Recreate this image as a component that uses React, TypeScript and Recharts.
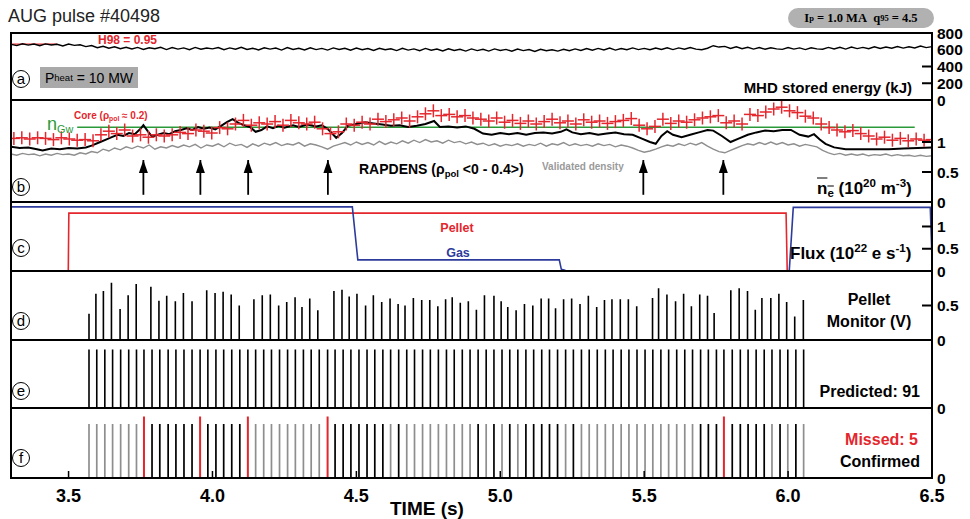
import React from 'react';
import { ComposedChart, Line, Scatter, XAxis, YAxis } from 'recharts';

// ---------------- DATA ----------------
const timeDomain = [3.3, 6.5];
const timeTicks = [3.5, 4.0, 4.5, 5.0, 5.5, 6.0, 6.5];

// (a) MHD stored energy (kJ), sampled every 0.02 s from 3.30 s
const wmhdStart = 3.3;
const wmhdStep = 0.02;
const wmhdValues = [
  664, 650, 672, 655, 668, 648, 670, 657, 666, 646, 669, 652, 660,
  638, 650, 624, 642, 618, 636, 612, 630,
  610, 628, 604, 624, 612, 630, 602, 626, 608, 622, 600, 628, 606, 620, 611,
  626, 600, 622, 606, 630, 604, 618, 598, 624, 608, 620, 596, 626, 603, 617,
  598, 624, 602, 616, 596, 622, 604, 618, 594, 620, 600, 614, 592, 618, 600,
  612, 590, 618, 596, 610, 588, 616, 594, 608, 586, 612, 592, 606, 584, 610,
  590, 606, 584, 610, 592, 604, 582, 608, 590, 602, 580, 606, 588, 600, 584,
  606, 588, 610, 592, 614, 594, 616, 598, 620, 596, 614, 600, 622, 602, 616,
  600, 620, 604, 624, 602, 622, 606, 626, 608, 600, 618, 648, 632, 640, 616,
  636, 612, 630, 608, 626, 606, 624, 610, 604, 626, 608, 622, 602, 624, 610,
  606, 628, 610, 630, 608, 632, 614, 628, 612, 636, 616, 632, 618, 638, 620,
  636, 622, 644, 626, 638,
];
const h98Times = [3.3, 3.46];
const h98Level = [668, 668];

// (b) densities (1e20 m^-3)
const rapdensTimes = [
  3.30, 3.33, 3.36, 3.39, 3.41, 3.44, 3.47, 3.50, 3.53, 3.56, 3.58, 3.61, 3.63, 3.65, 3.67, 3.69, 3.71, 3.73, 3.75, 3.76,
  3.775, 3.79, 3.81, 3.83, 3.85, 3.87, 3.89, 3.91, 3.93, 3.95, 3.97, 3.99, 4.01, 4.03, 4.05, 4.07, 4.09, 4.11, 4.13, 4.15,
  4.17, 4.19, 4.21, 4.23, 4.25, 4.28, 4.30, 4.33, 4.36, 4.38, 4.40, 4.42, 4.43, 4.45, 4.47, 4.50, 4.53, 4.56, 4.59, 4.62,
  4.65, 4.68, 4.71, 4.74, 4.77, 4.79, 4.82, 4.85, 4.88, 4.91, 4.94, 4.97, 5.00, 5.03, 5.06, 5.09, 5.12, 5.15, 5.18, 5.21,
  5.23, 5.25, 5.28, 5.31, 5.34, 5.37, 5.40, 5.43, 5.46, 5.49, 5.52, 5.54, 5.56, 5.58, 5.60, 5.63, 5.66, 5.69, 5.72, 5.74,
  5.77, 5.80, 5.83, 5.86, 5.89, 5.92, 5.95, 5.98, 6.01, 6.04, 6.07, 6.09, 6.11, 6.13, 6.16, 6.20, 6.25, 6.30, 6.35, 6.40,
  6.45, 6.50,
];
const rapdensValues = [
  0.92, 0.90, 0.91, 0.88, 0.86, 0.89, 0.88, 0.90, 0.89, 0.91, 0.94, 1.00, 1.04, 1.08, 1.12, 1.10, 1.15, 1.13, 1.22, 1.28,
  1.18, 1.09, 1.12, 1.15, 1.13, 1.18, 1.20, 1.23, 1.20, 1.25, 1.22, 1.24, 1.21, 1.27, 1.33, 1.38, 1.32, 1.28, 1.25, 1.17,
  1.20, 1.26, 1.23, 1.27, 1.24, 1.28, 1.25, 1.29, 1.26, 1.28, 1.22, 1.12, 1.07, 1.15, 1.27, 1.30, 1.33, 1.31, 1.29, 1.27,
  1.28, 1.25, 1.27, 1.30, 1.35, 1.25, 1.26, 1.24, 1.26, 1.22, 1.14, 1.12, 1.15, 1.13, 1.15, 1.12, 1.15, 1.16, 1.14, 1.17,
  1.21, 1.16, 1.13, 1.15, 1.12, 1.14, 1.16, 1.13, 1.12, 1.06, 1.00, 0.97, 1.10, 1.18, 1.12, 1.08, 1.12, 1.16, 1.20, 1.19,
  1.10, 1.00, 1.06, 1.12, 1.16, 1.19, 1.18, 1.20, 1.20, 1.12, 1.09, 1.13, 1.04, 0.97, 0.91, 0.88, 0.88, 0.88, 0.88, 0.89,
  0.90, 0.91,
];
const validatedStart = 3.3;
const validatedStep = 0.02;
const validatedValues = [
  0.80, 0.78, 0.81, 0.79, 0.80, 0.77, 0.80, 0.78, 0.81, 0.79, 0.80, 0.78, 0.82, 0.80,
  0.84, 0.82, 0.88, 0.85, 0.90, 0.87, 0.92, 0.89, 0.93, 0.90, 0.95, 0.88, 0.92, 0.90,
  0.94, 0.91, 0.95, 0.92, 0.96, 0.90, 0.95, 0.93, 0.97, 0.92, 0.98, 0.94, 0.96, 0.91,
  0.97, 0.93, 0.98, 0.95, 0.99, 0.94, 0.97, 0.95, 0.99, 0.93, 0.97, 0.95, 0.92, 0.88,
  0.93, 0.96, 0.99, 0.95, 1.00, 0.96, 0.99, 0.95, 1.01, 0.96, 1.00, 0.97, 1.02, 0.98,
  1.03, 0.99, 1.04, 1.00, 1.02, 0.98, 1.03, 0.99, 1.01, 0.97, 1.00, 0.96, 0.98, 0.94,
  0.97, 0.93, 0.96, 0.94, 0.97, 0.93, 0.96, 0.94, 0.98, 0.93, 0.97, 0.95, 0.99, 0.94,
  0.97, 0.94, 0.96, 0.93, 0.97, 0.94, 0.96, 0.92, 0.95, 0.93, 0.90, 0.86, 0.83, 0.85,
  0.88, 0.92, 0.95, 0.93, 0.97, 0.94, 0.98, 0.95, 0.99, 0.93, 0.88, 0.84, 0.82, 0.86,
  0.90, 0.94, 0.97, 0.95, 0.99, 0.96, 1.00, 0.96, 0.99, 0.95, 0.97, 0.93, 0.96, 0.94,
  0.92, 0.86, 0.82, 0.79, 0.81, 0.78, 0.80, 0.78, 0.80, 0.77, 0.79, 0.78, 0.80, 0.77,
  0.79, 0.77, 0.78, 0.76, 0.78, 0.76, 0.77,
];
const coreStart = 3.31;
const coreStep = 0.0275;
const coreValues = [
  1.06, 1.07, 1.05, 1.07, 1.06, 1.04, 1.07, 1.05, 1.03, 1.04,
  1.02, 1.12, 1.18, 1.14, 1.20, 1.10, 1.12, 1.08, 1.12, 1.10,
  1.12, 1.16, 1.14, 1.20, 1.18, 1.15, 1.24, 1.22, 1.30, 1.36,
  1.28, 1.32, 1.30, 1.34, 1.28, 1.36, 1.32, 1.30, 1.33, 1.22,
  1.14, 1.17, 1.30, 1.28, 1.33, 1.30, 1.38, 1.34, 1.37, 1.40,
  1.35, 1.42, 1.47, 1.52, 1.44, 1.46, 1.42, 1.44, 1.40, 1.38,
  1.35, 1.40, 1.33, 1.36, 1.31, 1.35, 1.30, 1.34, 1.38, 1.32,
  1.35, 1.30, 1.37, 1.33, 1.35, 1.31, 1.34, 1.36, 1.39, 1.28,
  1.22, 1.26, 1.38, 1.31, 1.35, 1.33, 1.37, 1.40, 1.42, 1.44,
  1.32, 1.35, 1.30, 1.46, 1.44, 1.50, 1.55, 1.58, 1.52, 1.49,
  1.43, 1.40, 1.30, 1.24, 1.20, 1.17, 1.19, 1.14, 1.10, 1.05,
  1.08, 1.03, 1.06, 1.02, 1.05, 1.03, 1.04,
];
const greenwaldTimes = [3.53, 6.44];
const greenwaldLevel = [1.245, 1.245];
const arrowTimes = [3.76, 3.958, 4.124, 4.401, 5.497, 5.775];
const arrowBase = 0.12;
const arrowTip = 0.7;

// (c) fluxes (1e22 e/s)
const pelletFluxTimes = [3.3, 3.499, 3.501, 5.993, 5.997, 6.5];
const pelletFluxValues = [0, 0, 1.3, 1.3, 0, 0];
const gasFluxTimes = [3.3, 4.486, 4.505, 5.205, 5.212, 5.222, 5.23, 6.004, 6.018, 6.494, 6.5];
const gasFluxValues = [1.44, 1.44, 0.25, 0.25, 0.04, 0.02, 0, 0, 1.43, 1.43, 0.3];

// (d) pellet monitor (V)
const monitorTimes = [
  3.571, 3.595, 3.621, 3.649, 3.679, 3.707, 3.735, 3.786, 3.814, 3.841,
  3.871, 3.899, 3.929, 3.980, 4.009, 4.037, 4.065, 4.093, 4.144, 4.173,
  4.201, 4.230, 4.258, 4.287, 4.311, 4.338, 4.366, 4.422, 4.450, 4.475,
  4.502, 4.532, 4.559, 4.588, 4.617, 4.645, 4.669, 4.698, 4.727, 4.755,
  4.783, 4.810, 4.833, 4.861, 4.889, 4.917, 4.945, 4.978, 5.003, 5.026,
  5.055, 5.084, 5.113, 5.142, 5.168, 5.192, 5.220, 5.248, 5.277, 5.306,
  5.335, 5.362, 5.388, 5.417, 5.445, 5.474, 5.529, 5.550, 5.579, 5.609,
  5.637, 5.664, 5.693, 5.720, 5.743, 5.801, 5.830, 5.859, 5.886, 5.909,
  5.940, 5.968, 5.995, 6.023, 6.053,
];
const monitorAmps = [
  0.38, 0.67, 0.71, 0.83, 0.45, 0.65, 0.81, 0.77, 0.57, 0.64,
  0.56, 0.68, 0.56, 0.72, 0.68, 0.70, 0.66, 0.50, 0.59, 0.65,
  0.66, 0.50, 0.55, 0.62, 0.48, 0.60, 0.43, 0.71, 0.73, 0.63,
  0.67, 0.50, 0.65, 0.55, 0.60, 0.52, 0.50, 0.61, 0.58, 0.58,
  0.49, 0.59, 0.62, 0.54, 0.56, 0.44, 0.65, 0.64, 0.56, 0.48,
  0.43, 0.52, 0.50, 0.60, 0.60, 0.46, 0.59, 0.60, 0.52, 0.64,
  0.48, 0.58, 0.59, 0.59, 0.59, 0.49, 0.61, 0.75, 0.66, 0.56,
  0.67, 0.49, 0.66, 0.64, 0.39, 0.72, 0.75, 0.71, 0.44, 0.61,
  0.61, 0.67, 0.55, 0.34, 0.58,
];

// (e) predicted pellets (91)
const predictedTimes = [
  3.571, 3.598, 3.626, 3.653, 3.681, 3.709, 3.736, 3.762, 3.790, 3.817,
  3.846, 3.873, 3.901, 3.929, 3.957, 3.984, 4.012, 4.039, 4.067, 4.095,
  4.123, 4.150, 4.178, 4.205, 4.233, 4.261, 4.288, 4.316, 4.343, 4.371,
  4.400, 4.426, 4.454, 4.481, 4.509, 4.537, 4.564, 4.592, 4.619, 4.647,
  4.675, 4.702, 4.730, 4.757, 4.785, 4.813, 4.840, 4.868, 4.895, 4.923,
  4.951, 4.978, 5.006, 5.033, 5.061, 5.089, 5.116, 5.144, 5.171, 5.199,
  5.227, 5.254, 5.282, 5.309, 5.337, 5.365, 5.392, 5.420, 5.447, 5.475,
  5.503, 5.530, 5.558, 5.585, 5.613, 5.641, 5.668, 5.696, 5.723, 5.751,
  5.777, 5.806, 5.834, 5.861, 5.889, 5.917, 5.944, 5.972, 5.999, 6.027,
  6.054,
];
const predictedLevel = 0.86;

// (f) confirmed / missed pellets
const confirmedDarkTimes = [
  3.790, 3.817, 3.846, 3.873, 3.901, 3.929, 3.984, 4.012, 4.039, 4.067, 4.095,
  4.426, 4.454, 4.481, 4.509, 4.537, 4.564, 4.592, 4.647, 4.923, 4.978, 5.033,
  5.089, 5.116, 5.144, 5.171, 5.199, 5.254, 5.696, 5.723, 5.751,
  5.806, 5.834, 5.861, 5.889, 5.917, 5.972, 6.027,
];
const confirmedLightTimes = [
  3.571, 3.598, 3.626, 3.653, 3.681, 3.709, 3.736,
  4.150, 4.178, 4.205, 4.233, 4.261, 4.288, 4.316, 4.343, 4.371,
  4.619, 4.675, 4.702, 4.730, 4.757, 4.785, 4.813, 4.840, 4.868, 4.895,
  4.951, 5.006, 5.061, 5.227,
  5.282, 5.309, 5.337, 5.365, 5.392, 5.420, 5.447, 5.475, 5.503, 5.530,
  5.558, 5.585, 5.613, 5.641, 5.668, 5.944, 5.999, 6.054,
];
const missedTimes = [3.762, 3.957, 4.123, 4.4, 5.777];
const confirmedLevel = 0.77;
const missedLevel = 0.88;
const fBaselineTimes = [3.34, 6.5];

// ---------------- HELPERS ----------------
type Pt = { t: number; v: number };
const pairs = (ts: number[], vs: number[]): Pt[] => ts.map((t, i) => ({ t, v: vs[i] }));
const sampled = (start: number, step: number, vs: number[]): Pt[] =>
  vs.map((v, i) => ({ t: +(start + i * step).toFixed(4), v }));
const spikeTrain = (ts: number[], hs: number[] | number): Pt[] => {
  const out: Pt[] = [{ t: timeDomain[0], v: 0 }];
  ts.forEach((t, i) => {
    const h = Array.isArray(hs) ? hs[i] : hs;
    out.push({ t, v: 0 }, { t, v: h }, { t, v: 0 });
  });
  out.push({ t: timeDomain[1], v: 0 });
  return out;
};

const FONT = '"Liberation Sans", Arial, Helvetica, sans-serif';
const W = 970;
const PAD = 14;
const PLOT_LEFT = 11;
const AXIS_W = 38;
const RED = '#e4262d';
const BLUE = '#2d3b9c';
const GREEN = '#2a9a38';
const GRAY = '#8e8e8e';

const makeRightTick = (marks: number[]) => (props: any) => {
  const { x, y, payload } = props;
  const v = payload.value as number;
  return (
    <g>
      {marks.includes(v) && <line x1={x - 10} x2={x} y1={y} y2={y} stroke="#000" strokeWidth={2} />}
      <text x={x + 5} y={y} dy="0.36em" fontFamily={FONT} fontWeight="bold" fontSize={15.5} fill="#000">
        {String(v)}
      </text>
    </g>
  );
};

const BottomTick = (props: any) => {
  const { x, y, payload } = props;
  return (
    <g>
      <line x1={x} x2={x} y1={y - 1} y2={y - 7} stroke="#000" strokeWidth={1.5} />
      <text x={x} y={y + 18} dy="0.36em" textAnchor="middle" fontFamily={FONT} fontWeight="bold" fontSize={18} fill="#000">
        {payload.value.toFixed(1)}
      </text>
    </g>
  );
};

const Cross = (p: any) => (
  <g>
    <line x1={p.cx - 6} x2={p.cx + 6} y1={p.cy} y2={p.cy} stroke={RED} strokeWidth={1.5} />
    <line x1={p.cx} x2={p.cx} y1={p.cy - 6.5} y2={p.cy + 6.5} stroke={RED} strokeWidth={1.5} />
  </g>
);

const ArrowHead = (p: any) =>
  p.index === 1 ? (
    <path key={`ah-${p.index}`} d={`M${p.cx},${p.cy} L${p.cx - 4.5},${p.cy + 13} L${p.cx + 4.5},${p.cy + 13} Z`} fill="#000" />
  ) : (
    <g key={`ah-${p.index}`} />
  );

type PanelProps = {
  top: number;
  height: number;
  domain: [number, number];
  ticks: number[];
  marks: number[];
  bottom?: boolean;
  children?: React.ReactNode;
};

function Panel({ top, height, domain, ticks, marks, bottom, children }: PanelProps) {
  const XH = 42;
  const chartH = bottom ? height + PAD + XH : height + 2 * PAD;
  return (
    <div style={{ position: 'absolute', left: 0, top: top - PAD }}>
      <ComposedChart
        width={W}
        height={chartH}
        margin={{ top: PAD, bottom: bottom ? 0 : PAD, left: PLOT_LEFT, right: 0 }}
      >
        <XAxis
          dataKey="t"
          type="number"
          domain={timeDomain}
          allowDataOverflow
          ticks={timeTicks}
          interval={0}
          hide={!bottom}
          height={XH}
          axisLine={false}
          tickLine={false}
          tickSize={0}
          tickMargin={0}
          tick={BottomTick}
        />
        <YAxis
          orientation="right"
          type="number"
          domain={domain}
          allowDataOverflow
          ticks={ticks}
          interval={0}
          width={AXIS_W}
          axisLine={false}
          tickLine={false}
          tickSize={0}
          tickMargin={0}
          tick={makeRightTick(marks)}
        />
        {children}
      </ComposedChart>
    </div>
  );
}

const Txt = ({
  x, y, size, color = '#000', weight = 'bold', anchor = 'start', family = FONT, children,
}: any) => {
  const tx = anchor === 'end' ? '-100%' : anchor === 'middle' ? '-50%' : '0';
  return (
    <div
      style={{
        position: 'absolute', left: x, top: y, fontSize: size, color, fontWeight: weight,
        fontFamily: family, whiteSpace: 'nowrap', lineHeight: 1, transform: `translate(${tx}, -50%)`,
      }}
    >
      {children}
    </div>
  );
};

const Sub = ({ children, s = 0.68 }: any) => (
  <span style={{ fontSize: `${s}em`, verticalAlign: '-0.3em', lineHeight: 0 }}>{children}</span>
);
const Sup = ({ children, s = 0.68 }: any) => (
  <span style={{ fontSize: `${s}em`, verticalAlign: '0.55em', lineHeight: 0 }}>{children}</span>
);

const Circled = ({ cx, cy, letter }: any) => (
  <div
    style={{
      position: 'absolute', left: cx - 9, top: cy - 9, width: 18, height: 18, borderRadius: '50%',
      border: '1.5px solid #000', boxSizing: 'border-box', display: 'flex', alignItems: 'center',
      justifyContent: 'center', fontFamily: FONT, fontSize: 15, lineHeight: 1, paddingBottom: 2,
    }}
  >
    {letter}
  </div>
);

const lineProps = { isAnimationActive: false, dot: false, activeDot: false, type: 'linear' as const, legendType: 'none' as const };

// panel geometry (page px)
const P = {
  a: [33, 67],
  b: [100, 102],
  c: [202, 69],
  d: [271, 69],
  e: [340, 68],
  f: [408, 70],
};

export default function App() {
  const wmhd = sampled(wmhdStart, wmhdStep, wmhdValues);
  const h98 = pairs(h98Times, h98Level);
  const rapdens = pairs(rapdensTimes, rapdensValues);
  const validated = sampled(validatedStart, validatedStep, validatedValues);
  const core = sampled(coreStart, coreStep, coreValues);
  const greenwald = pairs(greenwaldTimes, greenwaldLevel);
  const pelletFlux = pairs(pelletFluxTimes, pelletFluxValues);
  const gasFlux = pairs(gasFluxTimes, gasFluxValues);
  const monitor = spikeTrain(monitorTimes, monitorAmps);
  const predicted = spikeTrain(predictedTimes, predictedLevel);
  const confLight = spikeTrain(confirmedLightTimes, confirmedLevel);
  const confDark = spikeTrain(confirmedDarkTimes, confirmedLevel);
  const missed = spikeTrain(missedTimes, missedLevel);
  const fBase = fBaselineTimes.map((t) => ({ t, v: 0 }));

  const seps = [P.b[0], P.c[0], P.d[0], P.e[0], P.f[0]];

  return (
    <div style={{ position: 'absolute', left: 0, top: 0, width: 970, height: 519, background: '#fff', overflow: 'hidden', fontFamily: FONT }}>
      {/* (a) */}
      <Panel top={P.a[0]} height={P.a[1]} domain={[0, 800]} ticks={[0, 200, 400, 600, 800]} marks={[200, 400]}>
        <Line data={h98} dataKey="v" stroke={RED} strokeWidth={1.3} {...lineProps} />
        <Line data={wmhd} dataKey="v" stroke="#000" strokeWidth={1.4} {...lineProps} />
      </Panel>

      {/* (b) */}
      <Panel top={P.b[0]} height={P.b[1]} domain={[0, 1.7]} ticks={[0, 0.5, 1]} marks={[0.5, 1]}>
        <Line data={validated} dataKey="v" stroke={GRAY} strokeWidth={1.4} {...lineProps} />
        <Line data={greenwald} dataKey="v" stroke={GREEN} strokeWidth={1.4} {...lineProps} />
        <Scatter data={core} dataKey="v" shape={(p: any) => <Cross {...p} />} isAnimationActive={false} legendType="none" />
        <Line data={rapdens} dataKey="v" stroke="#000" strokeWidth={2} {...lineProps} />
        {arrowTimes.map((t) => (
          <Line
            key={`arrow-${t}`}
            data={[{ t, v: arrowBase }, { t, v: arrowTip }]}
            dataKey="v"
            stroke="#000"
            strokeWidth={1.8}
            isAnimationActive={false}
            activeDot={false}
            legendType="none"
            dot={ArrowHead}
          />
        ))}
      </Panel>

      {/* (c) */}
      <Panel top={P.c[0]} height={P.c[1]} domain={[0, 1.55]} ticks={[0, 0.5, 1]} marks={[0.5, 1]}>
        <Line data={pelletFlux} dataKey="v" stroke={RED} strokeWidth={1.6} {...lineProps} />
        <Line data={gasFlux} dataKey="v" stroke={BLUE} strokeWidth={1.6} {...lineProps} />
      </Panel>

      {/* (d) */}
      <Panel top={P.d[0]} height={P.d[1]} domain={[0, 1]} ticks={[0, 0.5]} marks={[0.5]}>
        <Line data={monitor} dataKey="v" stroke="#000" strokeWidth={1.6} {...lineProps} />
      </Panel>

      {/* (e) */}
      <Panel top={P.e[0]} height={P.e[1]} domain={[0, 1]} ticks={[0]} marks={[]}>
        <Line data={predicted} dataKey="v" stroke="#000" strokeWidth={1.6} {...lineProps} />
      </Panel>

      {/* (f) */}
      <Panel top={P.f[0]} height={P.f[1]} domain={[0, 1]} ticks={[0]} marks={[]} bottom>
        <Line data={confLight} dataKey="v" stroke={GRAY} strokeWidth={1.7} {...lineProps} />
        <Line data={confDark} dataKey="v" stroke="#000" strokeWidth={1.7} {...lineProps} />
        <Line data={missed} dataKey="v" stroke={RED} strokeWidth={2} {...lineProps} />
        <Line data={fBase} dataKey="v" stroke="#b01c1c" strokeWidth={1.5} {...lineProps} />
      </Panel>

      {/* frames */}
      <div style={{ position: 'absolute', left: 10, top: 32, width: 923, height: 447, border: '2px solid #000', boxSizing: 'border-box' }} />
      {seps.map((y) => (
        <div key={y} style={{ position: 'absolute', left: 10, top: y - 1, width: 923, height: 2, background: '#000' }} />
      ))}

      {/* header */}
      <Txt x={8} y={16} size={18} weight="normal" color="#222">AUG pulse #40498</Txt>
      <div
        style={{
          position: 'absolute', left: 788, top: 8, width: 146, height: 20, borderRadius: 10, background: '#b1b1b1',
          display: 'flex', alignItems: 'center', justifyContent: 'center', fontFamily: '"Liberation Serif", "Times New Roman", serif',
          fontSize: 12.5, fontWeight: 'bold', whiteSpace: 'nowrap', lineHeight: 1,
        }}
      >
        I<Sub>p</Sub>&nbsp;= 1.0 MA&nbsp;&nbsp;q<Sub>95</Sub>&nbsp;= 4.5
      </div>

      {/* (a) texts */}
      <Txt x={98} y={40} size={12} color={RED}>H98 = 0.95</Txt>
      <div
        style={{
          position: 'absolute', left: 40, top: 67, width: 98, height: 21, background: '#a9a9a9',
          display: 'flex', alignItems: 'center', justifyContent: 'center', fontFamily: FONT, fontSize: 14, whiteSpace: 'nowrap', lineHeight: 1,
        }}
      >
        P<Sub>heat</Sub>&nbsp;= 10 MW
      </div>
      <Txt x={912} y={87} size={15} anchor="end">MHD stored energy (kJ)</Txt>
      <Circled cx={21} cy={79} letter="a" />

      {/* (b) texts */}
      <Txt x={47} y={124} size={18} weight="normal" color={GREEN}>n<Sub s={0.6}>Gw</Sub></Txt>
      <Txt x={74} y={116} size={10} color={RED}>Core (ρ<Sub>pol</Sub> ≈ 0.2)</Txt>
      <Txt x={359} y={169} size={14}>RAPDENS (ρ<Sub>pol</Sub> &lt;0 - 0.4&gt;)</Txt>
      <Txt x={542} y={167} size={10} color="#9a9a9a">Validated density</Txt>
      <Txt x={817} y={188} size={17}>
        <span style={{ textDecoration: 'overline' }}>n<Sub>e</Sub></span> (10<Sup>20</Sup> m<Sup>-3</Sup>)
      </Txt>
      <Circled cx={21} cy={187} letter="b" />

      {/* (c) texts */}
      <Txt x={457} y={228} size={12.5} color={RED} anchor="middle">Pellet</Txt>
      <Txt x={458} y={253} size={12.5} color={BLUE} anchor="middle">Gas</Txt>
      <Txt x={790} y={253} size={17}>Flux (10<Sup>22</Sup> e s<Sup>-1</Sup>)</Txt>
      <Circled cx={21} cy={248} letter="c" />

      {/* (d) texts */}
      <Txt x={869} y={300} size={16} anchor="middle">Pellet</Txt>
      <Txt x={869} y={322} size={16} anchor="middle">Monitor (V)</Txt>
      <Circled cx={21} cy={321} letter="d" />

      {/* (e) texts */}
      <Txt x={920} y={392} size={16} anchor="end">Predicted: 91</Txt>
      <Circled cx={21} cy={391} letter="e" />

      {/* (f) texts */}
      <Txt x={918} y={440} size={16} color={RED} anchor="end">Missed: 5</Txt>
      <Txt x={920} y={462} size={16} anchor="end">Confirmed</Txt>
      <Circled cx={21} cy={458} letter="f" />

      <Txt x={390} y={508} size={19}>TIME (s)</Txt>
    </div>
  );
}
